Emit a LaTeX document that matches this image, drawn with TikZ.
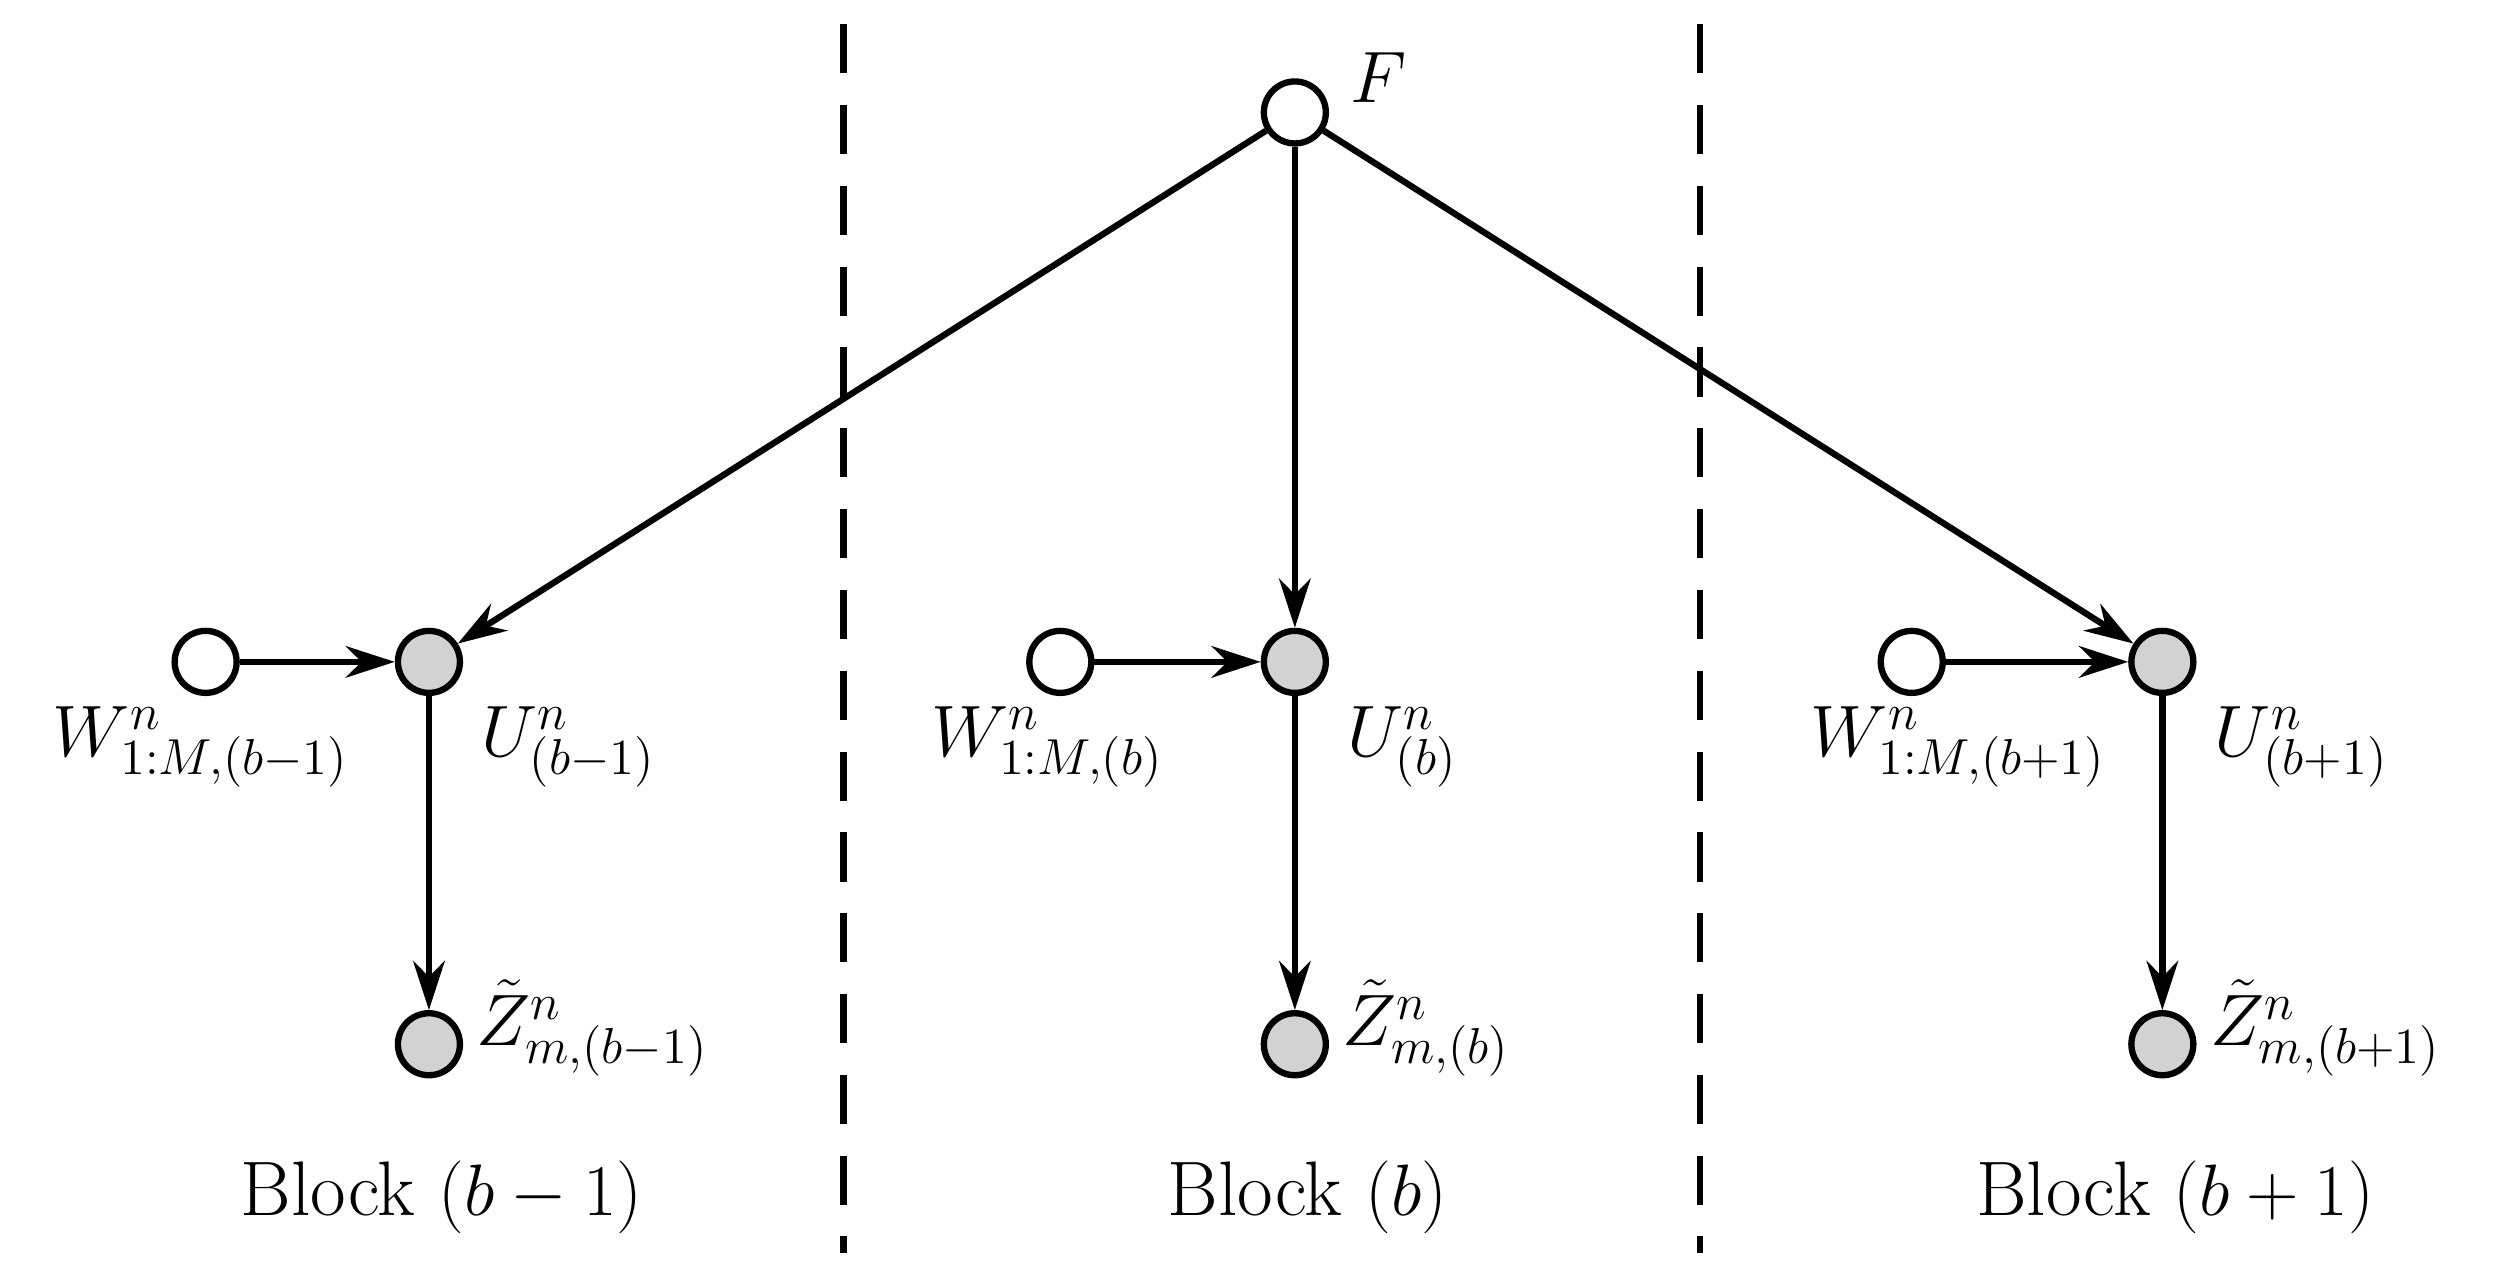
\documentclass[tikz,border=0pt]{standalone}
\usetikzlibrary{arrows.meta}
\begin{document}
\begin{tikzpicture}[x=0.016065cm,y=-0.016065cm,
  v/.style={circle,draw,line width=1.8pt,minimum size=0.62cm,inner sep=0pt,fill=white},
  o/.style={v,fill=gray!35},
  e/.style={line width=1.8pt,-{Stealth[length=14pt,width=9pt]}},
  lab/.style={font=\fontsize{22}{26}\selectfont},
  dl/.style={line width=1.8pt,dash pattern=on 14pt off 9pt}]
\useasboundingbox (0,0) rectangle (1568,788);
\node[v] (F) at (806,70) {};
\node[lab] (Fl) at (858,48) {$F$};
\foreach \n/\x/\w/\c/\s in {L/267/128/125/b-1, M/806/660/652/b, R/1346/1190/1219/b+1}{
  \node[o] (U\n) at (\x,412) {};
  \node[v] (W\n) at (\w,412) {};
  \node[o] (Z\n) at (\x,650) {};
  \draw[e] (W\n) -- (U\n);
  \draw[e] (U\n) -- (Z\n);
  \draw[e] (F) -- (U\n);
  \node[lab,anchor=north] (Wl\n) at (\c,432) {$W^n_{1:M,(\s)}$};
  \node[lab,anchor=north west] (Ul\n) at (\x+25,432) {$U^n_{(\s)}$};
  \node[lab,anchor=west] (Zl\n) at (\x+22,640) {$\tilde{Z}^n_{m,(\s)}$};
  \node[lab] (B\n) at (\x+8,745) {Block $(\s)$};
}
\coordinate (d1a) at (525,15); \coordinate (d1b) at (525,780);
\coordinate (d2a) at (1058,15); \coordinate (d2b) at (1058,780);
\draw[dl] (d1a) -- (d1b);
\draw[dl] (d2a) -- (d2b);
\end{tikzpicture}
\end{document}
